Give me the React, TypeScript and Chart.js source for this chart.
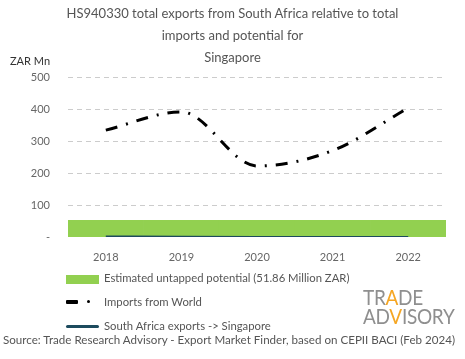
import React, { useEffect, useRef } from "react";
import { Chart, registerables } from "chart.js";

Chart.register(...registerables);

const years = ["2018", "2019", "2020", "2021", "2022"];
const untappedPotential = [51.86, 51.86, 51.86, 51.86, 51.86];
const importsFromWorld = [334, 391, 222, 270, 403];
const saExports = [1.8, 0.6, 0.2, 0.2, 0.3];
const yTicks = [0, 100, 200, 300, 400, 500];
const titleLines = [
  "HS940330 total exports from South Africa relative to total",
  "imports and potential for",
  "Singapore",
];

const FONT = "Lato, 'Noto Sans', sans-serif";
const GREEN = "#92d050";
const DARK = "#1d4b5e";

const dashedGrid = {
  id: "dashedGrid",
  beforeDatasetsDraw(chart: any) {
    const { ctx, chartArea, scales } = chart;
    const y = scales.y;
    ctx.save();
    ctx.strokeStyle = "#cccccc";
    ctx.lineWidth = 1;
    ctx.setLineDash([5, 4]);
    for (const v of yTicks) {
      if (v === 0) continue;
      const py = Math.round(y.getPixelForValue(v)) + 0.5;
      ctx.beginPath();
      ctx.moveTo(chartArea.left, py);
      ctx.lineTo(chartArea.right, py);
      ctx.stroke();
    }
    ctx.restore();
  },
};

export default function App() {
  const ref = useRef<HTMLCanvasElement | null>(null);

  useEffect(() => {
    if (!ref.current) return;
    const chart = new Chart(ref.current, {
      data: {
        labels: years,
        datasets: [
          {
            type: "line",
            label: "South Africa exports -> Singapore",
            data: saExports,
            borderColor: DARK,
            borderWidth: 2,
            pointRadius: 0,
            cubicInterpolationMode: "monotone",
            order: 1,
          },
          {
            type: "line",
            label: "Imports from World",
            data: importsFromWorld,
            borderColor: "#000000",
            borderWidth: 3,
            borderDash: [12, 9, 2, 9],
            pointRadius: 0,
            cubicInterpolationMode: "monotone",
            order: 2,
          },
          {
            type: "bar",
            label: "Estimated untapped potential (51.86 Million ZAR)",
            data: untappedPotential,
            backgroundColor: GREEN,
            barPercentage: 1,
            categoryPercentage: 1,
            order: 3,
          },
        ],
      },
      plugins: [dashedGrid],
      options: {
        animation: false,
        responsive: false,
        layout: { padding: { top: 77, right: 19, bottom: 92, left: 0 } },
        plugins: {
          legend: { display: false },
          title: { display: false },
          tooltip: { enabled: false },
        },
        scales: {
          x: {
            offset: true,
            grid: { display: false, drawTicks: false },
            border: { display: false },
            ticks: {
              color: "#666",
              font: { family: FONT, size: 11 },
              padding: 14,
            },
            afterFit: (s: any) => {
              s.height = 30;
            },
          },
          y: {
            min: 0,
            max: 500,
            afterBuildTicks: (s: any) => {
              s.ticks = yTicks.map((v) => ({ value: v }));
            },
            grid: { display: false, drawTicks: false },
            border: { display: false },
            ticks: {
              color: "#666",
              font: { family: FONT, size: 11 },
              padding: 18,
              callback: (v: any) => (Number(v) === 0 ? "-" : String(v)),
            },
            afterFit: (s: any) => {
              s.width = 68;
            },
          },
        },
      } as any,
    });
    return () => chart.destroy();
  }, []);

  const txt: React.CSSProperties = {
    position: "absolute",
    fontFamily: FONT,
    color: "#555",
    whiteSpace: "nowrap",
  };

  return (
    <div
      style={{
        position: "fixed",
        left: 0,
        top: 0,
        width: 465,
        height: 359,
        background: "#fff",
        overflow: "hidden",
      }}
    >
      <canvas ref={ref} width={465} height={359} style={{ position: "absolute", left: 0, top: 0 }} />
      {titleLines.map((t, i) => (
        <div
          key={i}
          style={{
            ...txt,
            left: 0,
            width: 465,
            textAlign: "center",
            top: 4 + i * 22,
            fontSize: 13,
            lineHeight: "18px",
          }}
        >
          {t}
        </div>
      ))}
      <div style={{ ...txt, left: 10, top: 53, fontSize: 11, lineHeight: "16px", color: "#333" }}>ZAR Mn</div>

      <div style={{ position: "absolute", left: 66, top: 275, width: 33, height: 9, background: GREEN }} />
      <div style={{ ...txt, left: 104, top: 270, fontSize: 11.3, lineHeight: "16px" }}>
        Estimated untapped potential (51.86 Million ZAR)
      </div>

      <div style={{ position: "absolute", left: 66, top: 300, width: 12, height: 4, background: "#000", borderRadius: 1 }} />
      <div style={{ position: "absolute", left: 87, top: 300, width: 3, height: 3, background: "#000", borderRadius: 2 }} />
      <div style={{ ...txt, left: 104, top: 294, fontSize: 11.3, lineHeight: "16px" }}>Imports from World</div>

      <div style={{ position: "absolute", left: 66, top: 325, width: 33, height: 3, background: DARK, borderRadius: 2 }} />
      <div style={{ ...txt, left: 104, top: 318, fontSize: 11.3, lineHeight: "16px" }}>
        South Africa exports -&gt; Singapore
      </div>

      <div style={{ ...txt, left: 3, top: 332, fontSize: 11.6, lineHeight: "16px" }}>
        Source: Trade Research Advisory - Export Market Finder, based on CEPII BACI (Feb 2024)
      </div>

      <div
        style={{
          ...txt,
          left: 363,
          top: 288,
          fontSize: 19,
          lineHeight: "16px",
          color: "#8f8f8f",
          letterSpacing: -0.3,
          transform: "scaleY(1.15)",
          transformOrigin: "top left",
        }}
      >
        <div>
          TR<span style={{ color: "#f5a623" }}>A</span>DE
        </div>
        <div>
          AD<span style={{ color: "#f5a623" }}>V</span>ISORY
        </div>
      </div>
    </div>
  );
}
